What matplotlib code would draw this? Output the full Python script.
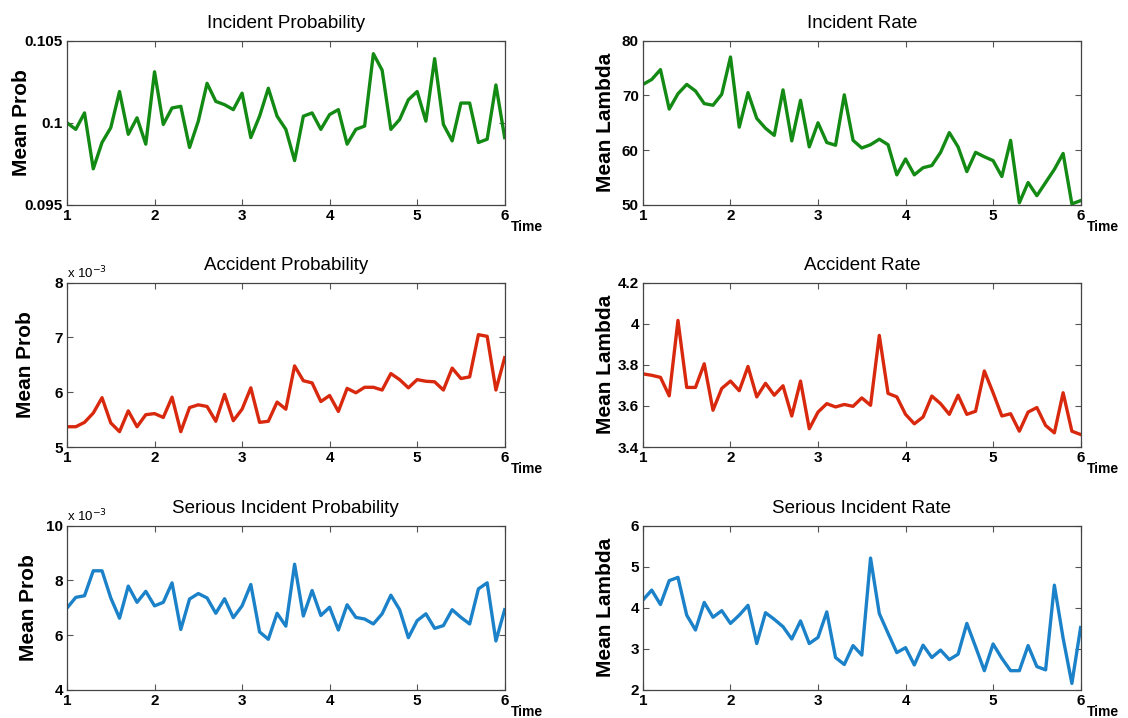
import numpy as np
import matplotlib
matplotlib.use('Agg')
import matplotlib.pyplot as plt
from matplotlib.ticker import FuncFormatter

# time axis, 0.1 steps from 1 to 6
time = [round(1 + 0.1 * i, 1) for i in range(51)]

incident_prob = [0.1000, 0.0996, 0.1006, 0.0972, 0.0988, 0.0997, 0.1019, 0.0993, 0.1003, 0.0987,
                 0.1031, 0.0999, 0.1009, 0.1010, 0.0985, 0.1001, 0.1024, 0.1013, 0.1011, 0.1008,
                 0.1018, 0.0991, 0.1004, 0.1021, 0.1004, 0.0996, 0.0977, 0.1004, 0.1006, 0.0996,
                 0.1005, 0.1008, 0.0987, 0.0996, 0.0998, 0.1042, 0.1032, 0.0996, 0.1002, 0.1014,
                 0.1019, 0.1001, 0.1039, 0.0999, 0.0989, 0.1012, 0.1012, 0.0988, 0.0990, 0.1023,
                 0.0991]

incident_rate = [72.0, 72.9, 74.7, 67.5, 70.3, 72.0, 70.8, 68.5, 68.2, 70.2,
                 77.0, 64.2, 70.5, 65.8, 64.0, 62.7, 71.0, 61.7, 69.1, 60.6,
                 65.0, 61.4, 60.9, 70.1, 61.8, 60.4, 61.0, 62.0, 61.0, 55.5,
                 58.4, 55.5, 56.8, 57.2, 59.6, 63.2, 60.6, 56.1, 59.6, 58.8,
                 58.1, 55.2, 61.8, 50.4, 54.1, 51.7, 54.1, 56.5, 59.4, 50.2,
                 50.8]

# values in units of 1e-3
accident_prob = [5.37, 5.37, 5.45, 5.62, 5.90, 5.44, 5.28, 5.66, 5.37, 5.59,
                 5.61, 5.54, 5.91, 5.28, 5.72, 5.77, 5.74, 5.47, 5.96, 5.48,
                 5.69, 6.08, 5.45, 5.47, 5.82, 5.69, 6.48, 6.21, 6.17, 5.83,
                 5.94, 5.65, 6.07, 5.99, 6.09, 6.09, 6.04, 6.34, 6.23, 6.08,
                 6.23, 6.20, 6.19, 6.04, 6.44, 6.25, 6.28, 7.05, 7.02, 6.04,
                 6.63]

accident_rate = [3.756, 3.749, 3.739, 3.649, 4.016, 3.690, 3.690, 3.805, 3.579, 3.685,
                 3.721, 3.674, 3.792, 3.644, 3.710, 3.652, 3.698, 3.551, 3.721, 3.489,
                 3.570, 3.611, 3.595, 3.607, 3.598, 3.639, 3.603, 3.943, 3.661, 3.644,
                 3.559, 3.513, 3.546, 3.648, 3.611, 3.559, 3.652, 3.559, 3.574, 3.770,
                 3.664, 3.551, 3.562, 3.477, 3.570, 3.592, 3.505, 3.469, 3.664, 3.477,
                 3.461]

# values in units of 1e-3
serious_prob = [6.99, 7.38, 7.44, 8.35, 8.35, 7.36, 6.62, 7.79, 7.20, 7.60,
                7.07, 7.20, 7.91, 6.21, 7.32, 7.52, 7.36, 6.80, 7.33, 6.64,
                7.07, 7.85, 6.12, 5.85, 6.80, 6.33, 8.59, 6.70, 7.63, 6.72,
                7.02, 6.19, 7.11, 6.65, 6.59, 6.41, 6.78, 7.46, 6.93, 5.91,
                6.53, 6.78, 6.25, 6.35, 6.93, 6.65, 6.41, 7.69, 7.91, 5.79,
                6.93]

serious_rate = [4.19, 4.43, 4.08, 4.66, 4.74, 3.82, 3.46, 4.13, 3.77, 3.93,
                3.62, 3.82, 4.06, 3.13, 3.88, 3.72, 3.54, 3.24, 3.68, 3.13,
                3.28, 3.90, 2.79, 2.62, 3.08, 2.85, 5.21, 3.86, 3.38, 2.91,
                3.03, 2.61, 3.09, 2.79, 2.97, 2.74, 2.87, 3.62, 3.05, 2.47,
                3.12, 2.77, 2.47, 2.47, 3.08, 2.57, 2.49, 4.55, 3.26, 2.16,
                3.52]

green = '#138a13'
red = '#d8290e'
blue = '#1b82c9'

narrow = ['Liberation Sans Narrow', 'Liberation Sans', 'DejaVu Sans']

panels = [
    ('Incident Probability', incident_prob, green, 'Mean Prob', [0.095, 0.1, 0.105], False),
    ('Incident Rate', incident_rate, green, 'Mean Lambda', [50, 60, 70, 80], False),
    ('Accident Probability', accident_prob, red, 'Mean Prob', [5, 6, 7, 8], True),
    ('Accident Rate', accident_rate, red, 'Mean Lambda', [3.4, 3.6, 3.8, 4.0, 4.2], False),
    ('Serious Incident Probability', serious_prob, blue, 'Mean Prob', [4, 6, 8, 10], True),
    ('Serious Incident Rate', serious_rate, blue, 'Mean Lambda', [2, 3, 4, 5, 6], False),
]

fig = plt.figure(figsize=(11.28, 7.18), dpi=100)

lefts = [0.0594, 0.570]
bottoms = [0.7145, 0.3774, 0.039]
w = 0.388
h = 0.229
label_x = [-0.083, -0.063, -0.072, -0.063, -0.067, -0.063]

def fmt(v, pos):
    return ('%g' % v)

for i, (title, vals, col, ylab, yt, sci) in enumerate(panels):
    ax = fig.add_axes([lefts[i % 2], bottoms[i // 2], w, h])
    ax.plot(time, vals, color=col, linewidth=2.4)
    ax.set_xlim(1, 6)
    ax.set_ylim(yt[0], yt[-1])
    ax.set_xticks([1, 2, 3, 4, 5, 6])
    ax.set_yticks(yt)
    ax.yaxis.set_major_formatter(FuncFormatter(fmt))
    ax.tick_params(direction='in', top=True, right=True, length=4, width=0.8,
                   color='#555555', pad=3)
    for lab in ax.get_xticklabels() + ax.get_yticklabels():
        lab.set_family(narrow)
        lab.set_fontweight('bold')
        lab.set_fontsize(11)
    for sp in ax.spines.values():
        sp.set_color('#444444')
        sp.set_linewidth(0.9)
    ax.set_title(title, family=narrow, fontsize=13.5, pad=9)
    ax.set_ylabel(ylab, fontweight='bold', fontsize=15, family='Liberation Sans')
    ax.yaxis.set_label_coords(label_x[i], 0.5)
    ax.text(1.015, -0.09, 'Time', transform=ax.transAxes, family=narrow,
            fontweight='bold', fontsize=10, ha='left', va='top')
    if sci:
        ax.text(0.0, 1.01, r'x 10$^{-3}$', transform=ax.transAxes, family=narrow,
                fontsize=9.5, ha='left', va='bottom')

fig.savefig('out.png', dpi=100)
